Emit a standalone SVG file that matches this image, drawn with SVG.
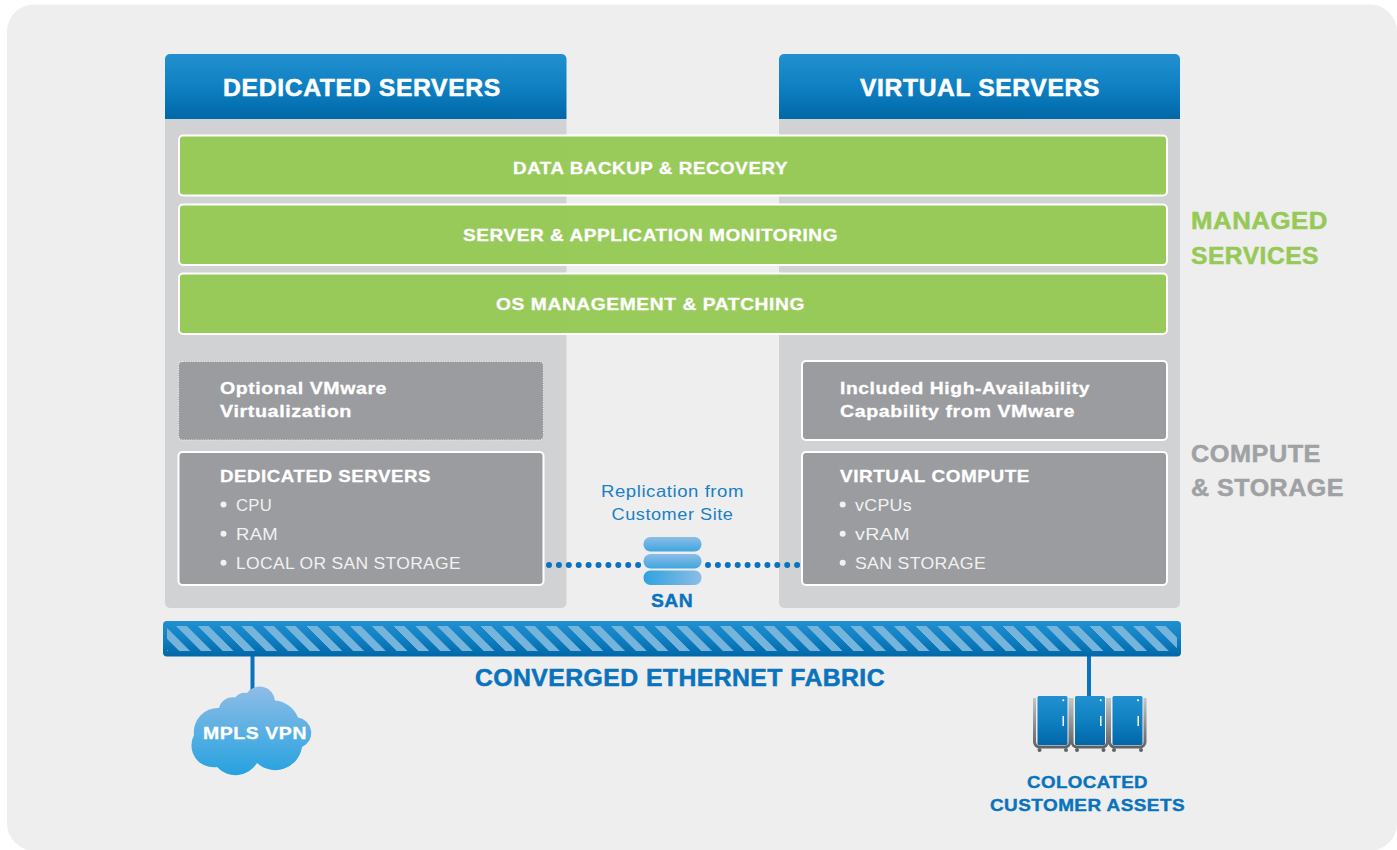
<svg xmlns="http://www.w3.org/2000/svg" width="1397" height="850" viewBox="0 0 1397 850">
<style>
text{font-family:"Liberation Sans",Arial,sans-serif;fill:#fff}
.b{font-weight:700}
.h{font-size:23px;stroke:#fff;stroke-width:.5px;letter-spacing:.6px}
.g{font-size:17px}
.s{font-size:17px;stroke:#fff;stroke-width:.3px;letter-spacing:.5px}
.n{font-size:17px;fill:#f1f1f2;letter-spacing:.3px}
.blue{fill:#0a73bd;stroke:#0a73bd;stroke-width:.4px;letter-spacing:.4px}
.lab{font-size:24px;font-weight:700;stroke-width:.5px;letter-spacing:.5px}
.panel{fill:#d1d2d4}
.head{fill:url(#hg)}
.green{fill:#96c956;fill-opacity:.97;stroke:#fff;stroke-width:2}
.box{fill:#9b9c9f;stroke:#fff;stroke-width:2}
.dash{fill:#9b9c9f;stroke:#eeeeee;stroke-width:1.2;stroke-dasharray:1.2 1.2}
.cab{fill:url(#hg)}
.frame{fill:none;stroke:url(#fg);stroke-width:3}
.dots{stroke:#0a73bd;stroke-width:6;stroke-linecap:round;stroke-dasharray:0 9.9;fill:none}
.wire{stroke:#0a73bd;stroke-width:4}
.bul{fill:#f1f1f2}
.foot{fill:#616265}
</style>
<defs>
<linearGradient id="hg" x1="0" y1="0" x2="0" y2="1"><stop offset="0" stop-color="#2290d0"/><stop offset=".5" stop-color="#0f80c2"/><stop offset="1" stop-color="#0067a8"/></linearGradient>
<linearGradient id="cg" x1="0" y1="0" x2="0" y2="1"><stop offset="0" stop-color="#8fbde6"/><stop offset="1" stop-color="#25a2e0"/></linearGradient>
<linearGradient id="p1" x1="0" y1="0" x2="0" y2="1"><stop offset="0" stop-color="#8cbde6"/><stop offset="1" stop-color="#3fa6e0"/></linearGradient>
<linearGradient id="p2" x1="0" y1="0" x2="1" y2="0"><stop offset="0" stop-color="#2ea2df"/><stop offset="1" stop-color="#8cbde6"/></linearGradient>
<linearGradient id="fg" x1="0" y1="0" x2="0" y2="1"><stop offset="0" stop-color="#c4c5c7"/><stop offset="1" stop-color="#616265"/></linearGradient>
<pattern id="st" width="21.75" height="25" patternUnits="userSpaceOnUse" patternTransform="translate(176,626) skewX(45)"><rect width="10.8" height="25" fill="#76b4db"/></pattern>
</defs>
<rect width="1397" height="850" fill="#fff"/>
<rect x="7" y="4.500" width="1390" height="846" rx="27" fill="#eeeeee"/>

<g id="dedicated-panel">
<path class="panel" d="M165 119H566.500V603a5 5 0 0 1-5 5H170a5 5 0 0 1-5-5Z"/>
<path class="head" d="M165 119V59a5 5 0 0 1 5-5H561.500a5 5 0 0 1 5 5V119Z"/>
<text class="b h" x="223" y="95.500" textLength="278" lengthAdjust="spacingAndGlyphs">DEDICATED SERVERS</text>
</g>
<g id="virtual-panel">
<path class="panel" d="M779 119H1180V603a5 5 0 0 1-5 5H784a5 5 0 0 1-5-5Z"/>
<path class="head" d="M779 119V59a5 5 0 0 1 5-5H1175a5 5 0 0 1 5 5V119Z"/>
<text class="b h" x="860" y="95.500" textLength="240" lengthAdjust="spacingAndGlyphs">VIRTUAL SERVERS</text>
</g>

<g id="connectors">
<path class="dots" d="M549 565H640"/>
<path class="dots" d="M708 565H799"/>
<path class="wire" d="M252.500 655V702"/>
<path class="wire" d="M1089 655V698"/>
</g>

<g id="backup"><rect class="green" x="179" y="135.500" width="988" height="60" rx="4"/><text class="b s" x="513" y="174" textLength="275" lengthAdjust="spacingAndGlyphs">DATA BACKUP &amp; RECOVERY</text></g>
<g id="monitoring"><rect class="green" x="179" y="204.500" width="988" height="60.500" rx="4"/><text class="b s" x="463" y="241" textLength="375" lengthAdjust="spacingAndGlyphs">SERVER &amp; APPLICATION MONITORING</text></g>
<g id="os-management"><rect class="green" x="179" y="273.500" width="988" height="60.500" rx="4"/><text class="b s" x="496" y="310" textLength="309" lengthAdjust="spacingAndGlyphs">OS MANAGEMENT &amp; PATCHING</text></g>

<g id="managed-label"><text class="lab" x="1191" y="229" textLength="137" lengthAdjust="spacingAndGlyphs" style="fill:#96c956;stroke:#96c956">MANAGED</text><text class="lab" x="1191" y="264" textLength="128" lengthAdjust="spacingAndGlyphs" style="fill:#96c956;stroke:#96c956">SERVICES</text></g>
<g id="compute-label"><text class="lab" x="1191" y="462" textLength="130" lengthAdjust="spacingAndGlyphs" style="fill:#a0a1a4;stroke:#a0a1a4">COMPUTE</text><text class="lab" x="1191" y="496" textLength="153" lengthAdjust="spacingAndGlyphs" style="fill:#a0a1a4;stroke:#a0a1a4">&amp; STORAGE</text></g>

<g id="optional-vmware"><rect class="dash" x="178.500" y="361.500" width="365" height="78.500" rx="4"/>
<text class="b s" x="220" y="394" textLength="167" lengthAdjust="spacingAndGlyphs">Optional VMware</text>
<text class="b s" x="220" y="417" textLength="132" lengthAdjust="spacingAndGlyphs">Virtualization</text></g>

<g id="dedicated-servers"><rect class="box" x="178.500" y="452" width="365" height="133" rx="4"/>
<text class="b s" x="220" y="482" textLength="211" lengthAdjust="spacingAndGlyphs">DEDICATED SERVERS</text>
<circle class="bul" cx="223.500" cy="504.500" r="3"/><text class="n" x="236" y="511" textLength="36" lengthAdjust="spacingAndGlyphs">CPU</text>
<circle class="bul" cx="223.500" cy="533.700" r="3"/><text class="n" x="236" y="540" textLength="42" lengthAdjust="spacingAndGlyphs">RAM</text>
<circle class="bul" cx="223.500" cy="562.700" r="3"/><text class="n" x="236" y="569" textLength="225" lengthAdjust="spacingAndGlyphs">LOCAL OR SAN STORAGE</text></g>

<g id="ha-capability"><rect class="box" x="802" y="361" width="365" height="79" rx="4"/>
<text class="b s" x="840" y="394" textLength="250" lengthAdjust="spacingAndGlyphs">Included High-Availability</text>
<text class="b s" x="840" y="417" textLength="235" lengthAdjust="spacingAndGlyphs">Capability from VMware</text></g>

<g id="virtual-compute"><rect class="box" x="802" y="452" width="365" height="133" rx="4"/>
<text class="b s" x="840" y="482" textLength="190" lengthAdjust="spacingAndGlyphs">VIRTUAL COMPUTE</text>
<circle class="bul" cx="842.700" cy="504.500" r="3"/><text class="n" x="855" y="511" textLength="57" lengthAdjust="spacingAndGlyphs">vCPUs</text>
<circle class="bul" cx="842.700" cy="533.700" r="3"/><text class="n" x="855" y="540" textLength="55" lengthAdjust="spacingAndGlyphs">vRAM</text>
<circle class="bul" cx="842.700" cy="562.700" r="3"/><text class="n" x="855" y="569" textLength="131" lengthAdjust="spacingAndGlyphs">SAN STORAGE</text></g>

<g id="san">
<text x="601" y="497" font-size="16.500" textLength="143" lengthAdjust="spacingAndGlyphs" style="fill:#1a80c4;letter-spacing:.5px">Replication from</text>
<text x="611.500" y="520" font-size="16.500" textLength="122" lengthAdjust="spacingAndGlyphs" style="fill:#1a80c4;letter-spacing:.5px">Customer Site</text>
<rect x="643.500" y="537" width="58" height="14.500" rx="7" fill="url(#p1)"/>
<rect x="643.500" y="554" width="58" height="14.500" rx="7" fill="url(#p1)"/>
<rect x="643.500" y="570.500" width="58" height="14.500" rx="7" fill="url(#p2)"/>
<text class="b blue" x="651" y="607" font-size="18" textLength="42" lengthAdjust="spacingAndGlyphs">SAN</text>
</g>

<g id="fabric">
<rect x="163" y="621" width="1018" height="35.500" rx="4" fill="url(#hg)"/>
<rect x="167" y="626" width="1010" height="25" fill="url(#st)"/>
<text class="b blue" x="475" y="686" font-size="23" textLength="410" lengthAdjust="spacingAndGlyphs" style="stroke-width:.5px">CONVERGED ETHERNET FABRIC</text>
</g>

<g id="mpls-vpn">
<path d="M219 708A14 14 0 0 1 235 697.500A13 13 0 0 1 247 693A15.500 15.500 0 0 1 275 700.500A27 27 0 0 1 298 717.500A15.500 15.500 0 0 1 302 747A27 27 0 0 1 257 763A25 25 0 0 1 217 767A22 22 0 0 1 194 735A24 24 0 0 1 219 708Z" fill="url(#cg)"/>
<text class="b s" x="203" y="739" font-size="18" textLength="104" lengthAdjust="spacingAndGlyphs">MPLS VPN</text>
</g>

<g id="colocated">
<g id="rack-1"><path class="frame" d="M1034.500 698V742a5 5 0 0 0 5 5H1065a5 5 0 0 0 5-5V698"/><rect class="cab" x="1037.500" y="696" width="30" height="49" rx="1.500"/><circle cx="1063.300" cy="700.300" r="1" fill="#fff"/><rect x="1062.500" y="716" width="1.500" height="10" fill="#fff"/><circle class="foot" cx="1039.500" cy="750" r="2"/><circle class="foot" cx="1066" cy="750" r="2"/></g>
<g id="rack-2"><path class="frame" d="M1072 698V742a5 5 0 0 0 5 5H1102.500a5 5 0 0 0 5-5V698"/><rect class="cab" x="1075" y="696" width="30" height="49" rx="1.500"/><circle cx="1100.700" cy="700.300" r="1" fill="#fff"/><rect x="1100" y="716" width="1.500" height="10" fill="#fff"/><circle class="foot" cx="1077" cy="750" r="2"/><circle class="foot" cx="1103.500" cy="750" r="2"/></g>
<g id="rack-3"><path class="frame" d="M1109.500 698V742a5 5 0 0 0 5 5H1140a5 5 0 0 0 5-5V698"/><rect class="cab" x="1112.500" y="696" width="30" height="49" rx="1.500"/><circle cx="1138" cy="700.300" r="1" fill="#fff"/><rect x="1137.500" y="716" width="1.500" height="10" fill="#fff"/><circle class="foot" cx="1114" cy="750" r="2"/><circle class="foot" cx="1141" cy="750" r="2"/></g>
<text class="b blue" x="1027" y="788" font-size="17" textLength="121" lengthAdjust="spacingAndGlyphs">COLOCATED</text>
<text class="b blue" x="990" y="811" font-size="17" textLength="195" lengthAdjust="spacingAndGlyphs">CUSTOMER ASSETS</text>
</g>
</svg>
